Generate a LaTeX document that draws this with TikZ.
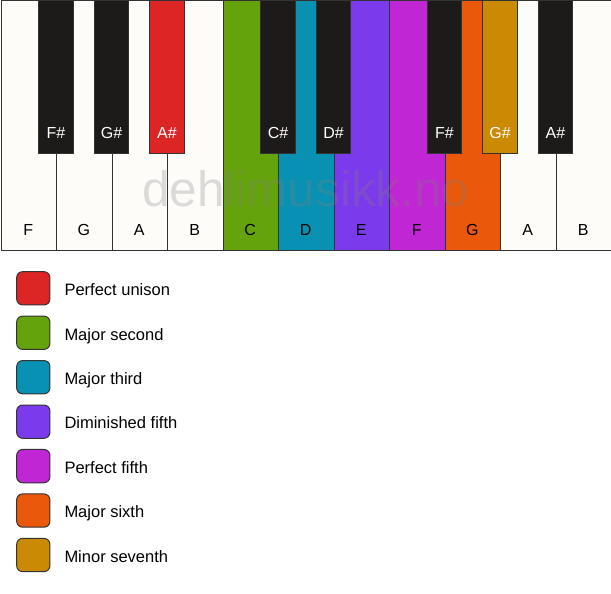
\documentclass[tikz,border=0pt]{standalone}
\usepackage{fontspec}
\setmainfont{Liberation Sans}
\definecolor{keywhite}{HTML}{FDFCF9}
\definecolor{keyblack}{HTML}{1C1B1A}
\definecolor{keyline}{HTML}{333333}
\definecolor{iRed}{HTML}{DC2626}
\definecolor{iGreen}{HTML}{65A30D}
\definecolor{iCyan}{HTML}{0891B2}
\definecolor{iViolet}{HTML}{7C3AED}
\definecolor{iFuchsia}{HTML}{C026D3}
\definecolor{iOrange}{HTML}{EA580C}
\definecolor{iYellow}{HTML}{CA8A04}
\tikzset{
  whitekey/.style={draw=keyline, line width=1pt, minimum width=55.5pt, minimum height=249.5pt, inner sep=0pt, anchor=north west},
  blackkey/.style={draw=keyline, line width=1pt, minimum width=34.5pt, minimum height=152.5pt, inner sep=0pt, anchor=north},
  wlabel/.style={font=\fontsize{16}{19}\selectfont, text=black, anchor=base, inner sep=0pt},
  blabel/.style={font=\fontsize{16}{19}\selectfont, text=white, anchor=base, inner sep=0pt},
  legendbox/.style={draw=keyline, line width=1pt, rounded corners=6pt, minimum width=33.3pt, minimum height=33.3pt, inner sep=0pt},
  legendtext/.style={font=\fontsize{16.5}{19}\selectfont, anchor=base west, inner sep=0pt},
  watermark/.style={font=\fontsize{49.5}{52}\selectfont, text=gray, text opacity=0.27, anchor=base, inner sep=0pt}
}
\begin{document}
\begin{tikzpicture}[x=1pt,y=-1pt]
\useasboundingbox (0,0) rectangle (611,594);
\fill[white] (0,0) rectangle (611,594);
% white keys
\foreach \i/\n/\c in {0/F/keywhite,1/G/keywhite,2/A/keywhite,3/B/keywhite,4/C/iGreen,5/D/iCyan,6/E/iViolet,7/F/iFuchsia,8/G/iOrange,9/A/keywhite,10/B/keywhite}{
  \node[whitekey, fill=\c] (w\i) at (0.5+\i*55.5,0.5) {};
  \node[wlabel] (wl\i) at (0.5+\i*55.5+27.75,235.7) {\n};
}
% watermark
\node[watermark] (wm) at (305.8,206.8) {dehlimusikk.no};
% black keys
\foreach \i/\n/\c in {1/F\#/keyblack,2/G\#/keyblack,3/A\#/iRed,5/C\#/keyblack,6/D\#/keyblack,8/F\#/keyblack,9/G\#/iYellow,10/A\#/keyblack}{
  \node[blackkey, fill=\c] (b\i) at (0.5+\i*55.5,0.5) {};
  \node[blabel] (bl\i) at (0.5+\i*55.5,138.7) {\n};
}
% legend
\foreach \i/\c/\t in {0/iRed/Perfect unison,1/iGreen/Major second,2/iCyan/Major third,3/iViolet/Diminished fifth,4/iFuchsia/Perfect fifth,5/iOrange/Major sixth,6/iYellow/Minor seventh}{
  \node[legendbox, fill=\c] (lb\i) at (33.3,288.3+44.45*\i) {};
  \node[legendtext] (lt\i) at (64.3,295.6+44.45*\i) {\t};
}
\end{tikzpicture}
\end{document}
